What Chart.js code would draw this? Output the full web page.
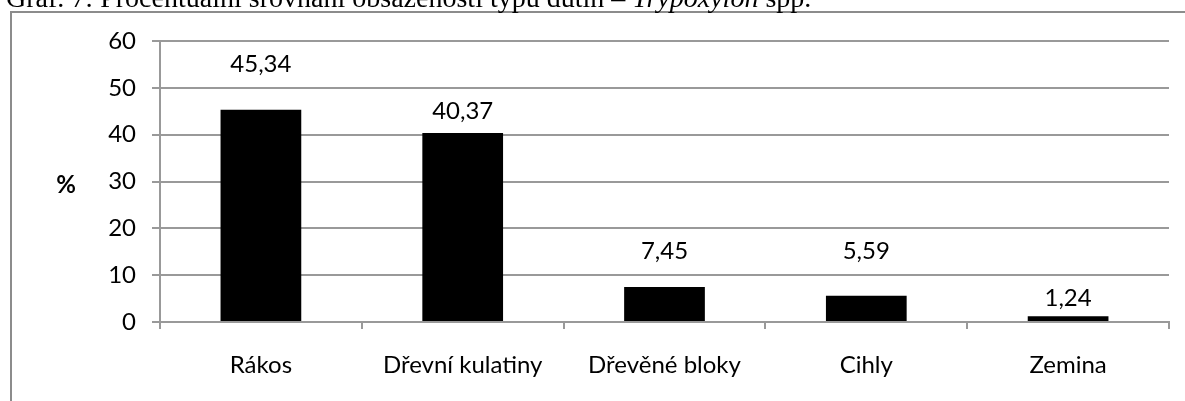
<!DOCTYPE html>
<html>
<head>
<meta charset="utf-8">
<script src="https://cdn.jsdelivr.net/npm/chart.js@4"></script>
<style>
  html, body { margin: 0; padding: 0; background: #fff; overflow: hidden; }
  #wrap { position: relative; width: 1185px; height: 401px; }
</style>
</head>
<body>
<div id="wrap"><canvas id="chart" width="1185" height="401"></canvas></div>
<script>
// data
const categories = ['Rákos', 'Dřevní kulatiny', 'Dřevěné bloky', 'Cihly', 'Zemina'];
const values = [45.34, 40.37, 7.45, 5.59, 1.24];
const yTicks = [0, 10, 20, 30, 40, 50, 60];
// value labels sit in the grid band above each bar (in % units)
const labelLevels = [55, 45, 15, 15, 5];
const yTitle = '%';
const titleParts = [
    ['Graf. 7: Procentuální srovnání obsazenosti typu dutin – ', false],
    ['Trypoxylon', true],
    [' spp.', false]
];

const gridGray = '#999999';
const textFont = 'Lato';
const textSize = 24;

// frame around the chart + the cut-off caption above it
const framePlugin = {
    id: 'frame',
    beforeDraw(chart) {
        const ctx = chart.ctx;
        ctx.save();
        ctx.strokeStyle = '#8c8c8c';
        ctx.lineWidth = 2;
        ctx.beginPath();
        ctx.moveTo(11, 420);
        ctx.lineTo(11, 12);
        ctx.lineTo(1200, 12);
        ctx.stroke();
        ctx.restore();
    },
    afterDraw(chart) {
        const ctx = chart.ctx;
        ctx.save();
        // fit the caption to the width it has in the picture
        let w100 = 0;
        titleParts.forEach(([t, it]) => {
            ctx.font = (it ? 'italic ' : '') + '100px "Liberation Serif"';
            w100 += ctx.measureText(t).width;
        });
        const size = 100 * 806 / w100;
        let x = 6;
        ctx.fillStyle = '#000';
        ctx.textBaseline = 'alphabetic';
        ctx.textAlign = 'left';
        titleParts.forEach(([t, it]) => {
            ctx.font = (it ? 'italic ' : '') + size + 'px "Liberation Serif"';
            ctx.fillText(t, x, 7);
            x += ctx.measureText(t).width;
        });
        ctx.restore();
    }
};

// value labels and the unrotated "%" axis title
const labelPlugin = {
    id: 'valueLabels',
    afterDatasetsDraw(chart) {
        const ctx = chart.ctx;
        const y = chart.scales.y;
        const meta = chart.getDatasetMeta(0);
        ctx.save();
        ctx.fillStyle = '#000';
        ctx.textAlign = 'center';
        ctx.textBaseline = 'middle';
        ctx.font = textSize + 'px ' + textFont;
        meta.data.forEach((bar, i) => {
            const txt = values[i].toFixed(2).replace('.', ',');
            ctx.fillText(txt, bar.x, y.getPixelForValue(labelLevels[i]));
        });
        ctx.font = 'bold ' + textSize + 'px ' + textFont;
        const area = chart.chartArea;
        ctx.fillText(yTitle, area.left - 94, (area.top + area.bottom) / 2 + 4);
        ctx.restore();
    }
};

new Chart(document.getElementById('chart'), {
    type: 'bar',
    data: {
        labels: categories,
        datasets: [{
            data: values,
            backgroundColor: '#000',
            borderWidth: 0,
            barPercentage: 0.4,
            categoryPercentage: 1
        }]
    },
    options: {
        responsive: false,
        animation: false,
        layout: { padding: { top: 41, right: 16, bottom: 0, left: 0 } },
        plugins: {
            legend: { display: false },
            tooltip: { enabled: false }
        },
        scales: {
            x: {
                afterFit(scale) { scale.height = 79; },
                grid: {
                    offset: true,
                    drawOnChartArea: false,
                    drawTicks: true,
                    tickLength: 7,
                    color: gridGray,
                    lineWidth: 2
                },
                border: { display: true, color: gridGray, width: 2 },
                ticks: { color: '#000', padding: 22, font: { family: textFont, size: textSize } }
            },
            y: {
                min: 0,
                max: 60,
                afterFit(scale) { scale.width = 160; },
                afterBuildTicks(scale) { scale.ticks = yTicks.map(v => ({ value: v })); },
                grid: { color: gridGray, lineWidth: 2, tickLength: 8 },
                border: { display: true, color: gridGray, width: 2 },
                ticks: { color: '#000', padding: 16, font: { family: textFont, size: textSize } }
            }
        }
    },
    plugins: [framePlugin, labelPlugin]
});
</script>
</body>
</html>
